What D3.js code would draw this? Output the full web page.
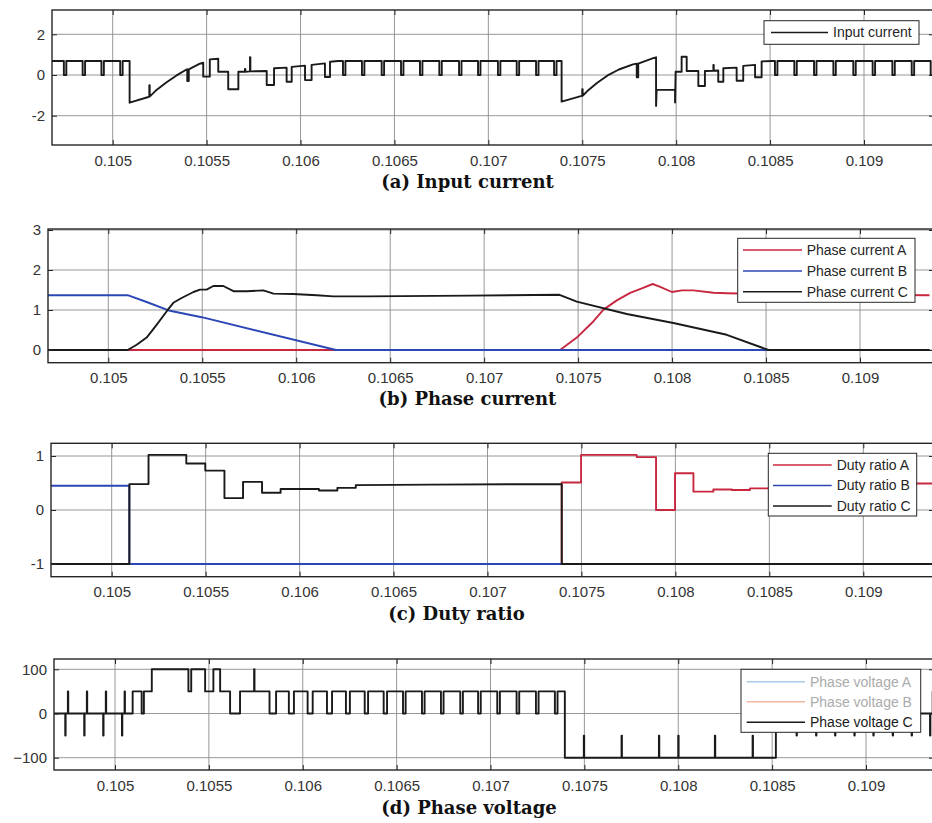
<!DOCTYPE html>
<html>
<head>
<meta charset="utf-8">
<script src="https://cdn.jsdelivr.net/npm/d3@7"></script>
<style>
  body { margin: 0; background: #fff; }
  svg { display: block; }
</style>
</head>
<body>
<div id="app"></div>
<script>
// ---- data ----
const timeTicks = [0.105, 0.1055, 0.106, 0.1065, 0.107, 0.1075, 0.108, 0.1085, 0.109];
const timeTickLabels = ["0.105", "0.1055", "0.106", "0.1065", "0.107", "0.1075", "0.108", "0.1085", "0.109"];

// (a) input current: trace with steps, plus notches [t, base, level, width]
const inputCurrentTicks = [-2, 0, 2];
const inputCurrentTickLabels = ["-2", "0", "2"];
const inputCurrentTrace = [
  [0.104675, 0.69], [0.105090, 0.69], [0.105090, -1.36], [0.105190, -1.08],
  [0.105235, -0.72], [0.105287, -0.36], [0.105340, -0.02], [0.105393, 0.27],
  [0.105464, 0.56], [0.105482, 0.60], [0.105482, -0.08], [0.105517, -0.08],
  [0.105517, 0.77], [0.105562, 0.80], [0.105562, 0.16], [0.105615, 0.16],
  [0.105615, -0.70], [0.105669, -0.70], [0.105669, 0.16], [0.105820, 0.20],
  [0.105820, -0.49], [0.105859, -0.49], [0.105859, 0.33], [0.105926, 0.36],
  [0.105926, -0.33], [0.105953, -0.33], [0.105953, 0.40], [0.106024, 0.46],
  [0.106024, -0.25], [0.106059, -0.25], [0.106059, 0.50], [0.106130, 0.57],
  [0.106130, -0.10], [0.106157, -0.10], [0.106157, 0.65], [0.106200, 0.69],
  [0.107390, 0.69], [0.107390, -1.31], [0.107497, -1.03], [0.107535, -0.72],
  [0.107580, -0.38], [0.107635, -0.02], [0.107695, 0.27], [0.107770, 0.52],
  [0.107878, 0.83], [0.107893, 0.87],
  [0.107893, -1.52], [0.107896, -0.73], [0.107994, -0.73], [0.107994, -1.35],
  [0.107997, 0.16], [0.108029, 0.16], [0.108029, 0.90], [0.108056, 0.90],
  [0.108056, 0.20], [0.108118, 0.20], [0.108118, -0.54], [0.108153, -0.54],
  [0.108153, 0.20], [0.108224, 0.22], [0.108224, -0.33], [0.108251, -0.33],
  [0.108251, 0.33], [0.108322, 0.36], [0.108322, -0.28], [0.108357, -0.28],
  [0.108357, 0.45], [0.108420, 0.50], [0.108420, -0.11], [0.108455, -0.11],
  [0.108455, 0.67], [0.108510, 0.69], [0.109370, 0.69]
];
const inputCurrentNotches = [
  [0.104740, 0.69, 0, 0.000013], [0.104840, 0.69, 0, 0.000013], [0.104940, 0.69, 0, 0.000013],
  [0.105040, 0.69, 0, 0.000013], [0.105195, -1.06, -0.5, 0.000002], [0.105397, 0.28, -0.3, 0.000008],
  [0.105704, 0.16, 0.3, 0.000002], [0.105731, 0.18, 0.87, 0.000002],
  [0.106226, 0.69, 0, 0.000013], [0.106327, 0.69, 0, 0.000013], [0.106432, 0.69, 0, 0.000013],
  [0.106535, 0.69, 0, 0.000013], [0.106636, 0.69, 0, 0.000013], [0.106739, 0.69, 0, 0.000013],
  [0.106844, 0.69, 0, 0.000013], [0.106945, 0.69, 0, 0.000013], [0.107051, 0.69, 0, 0.000013],
  [0.107151, 0.69, 0, 0.000013], [0.107254, 0.69, 0, 0.000013], [0.107350, 0.69, 0, 0.000013],
  [0.107500, -1.02, -0.7, 0.000002], [0.107790, 0.56, -0.11, 0.000008], [0.108198, 0.21, 0.49, 0.000002],
  [0.108526, 0.69, 0, 0.000013], [0.108629, 0.69, 0, 0.000013], [0.108734, 0.69, 0, 0.000013],
  [0.108837, 0.69, 0, 0.000013], [0.108943, 0.69, 0, 0.000013], [0.109046, 0.69, 0, 0.000013],
  [0.109151, 0.69, 0, 0.000013], [0.109254, 0.69, 0, 0.000013], [0.109355, 0.69, 0, 0.000013]
];

// (b) phase currents
const phaseCurrentTicks = [0, 1, 2, 3];
const phaseCurrentTickLabels = ["0", "1", "2", "3"];
const phaseCurrentA = [
  [0.104675, 0], [0.107404, 0], [0.107493, 0.31], [0.107582, 0.72], [0.107635, 1.01],
  [0.107706, 1.24], [0.107777, 1.43], [0.107839, 1.54], [0.107897, 1.65], [0.107937, 1.58],
  [0.107999, 1.45], [0.108052, 1.49], [0.108114, 1.49], [0.108220, 1.43], [0.108291, 1.42],
  [0.108600, 1.39], [0.109370, 1.37]
];
const phaseCurrentB = [
  [0.104675, 1.37], [0.105103, 1.37], [0.105204, 1.20], [0.105328, 0.98],
  [0.105497, 0.82], [0.106212, 0], [0.109370, 0]
];
const phaseCurrentC = [
  [0.104675, 0], [0.105103, 0], [0.105151, 0.13], [0.105204, 0.31], [0.105257, 0.63],
  [0.105311, 0.97], [0.105346, 1.18], [0.105390, 1.30], [0.105453, 1.45], [0.105488, 1.51],
  [0.105523, 1.51], [0.105559, 1.60], [0.105612, 1.60], [0.105666, 1.47], [0.105737, 1.47],
  [0.105825, 1.49], [0.105879, 1.41], [0.105985, 1.40], [0.106109, 1.37], [0.106198, 1.34],
  [0.106376, 1.34], [0.106926, 1.36], [0.107401, 1.38], [0.107493, 1.21], [0.107759, 0.90],
  [0.108007, 0.675], [0.108291, 0.38], [0.108513, 0], [0.109370, 0]
];

// (c) duty ratios
const dutyTicks = [-1, 0, 1];
const dutyTickLabels = ["-1", "0", "1"];
const dutyA = [
  [0.104675, -1], [0.107395, -1], [0.107395, 0.51], [0.107498, 0.51], [0.107498, 1.02],
  [0.107794, 1.02], [0.107794, 0.98], [0.107897, 0.98], [0.107897, 0.0], [0.107998, 0.0],
  [0.107998, 0.68], [0.108096, 0.68], [0.108096, 0.34], [0.108202, 0.34], [0.108202, 0.38],
  [0.108300, 0.38], [0.108300, 0.37], [0.108397, 0.37], [0.108397, 0.40], [0.108500, 0.40],
  [0.108500, 0.42], [0.108700, 0.42], [0.108700, 0.45], [0.108900, 0.45], [0.108900, 0.47],
  [0.109100, 0.47], [0.109100, 0.49], [0.109370, 0.49]
];
const dutyB = [[0.104675, 0.45], [0.105094, 0.45], [0.105094, -1], [0.109370, -1]];
const dutyC = [
  [0.104675, -1], [0.105094, -1], [0.105094, 0.48], [0.105196, 0.48], [0.105196, 1.02],
  [0.105397, 1.02], [0.105397, 0.86], [0.105498, 0.86], [0.105498, 0.73], [0.105600, 0.73],
  [0.105600, 0.22], [0.105699, 0.22], [0.105699, 0.52], [0.105800, 0.52], [0.105800, 0.32],
  [0.105899, 0.32], [0.105899, 0.39], [0.106103, 0.39], [0.106103, 0.36], [0.106201, 0.36],
  [0.106201, 0.41], [0.106299, 0.41], [0.106299, 0.46], [0.106700, 0.47], [0.107395, 0.48],
  [0.107395, -1], [0.109370, -1]
];

// (d) phase voltage C: trace plus notches/spikes [t, base, level, width]
const voltageTicks = [-100, 0, 100];
const voltageTickLabels = ["\u2212100", "0", "100"];
const phaseVoltageCTrace = [
  [0.104675, 0], [0.105094, 0], [0.105094, 50], [0.105196, 50], [0.105196, 100],
  [0.105480, 100], [0.105480, 50], [0.105524, 50], [0.105524, 100], [0.105560, 100],
  [0.105560, 50], [0.105613, 50], [0.105613, 0], [0.105666, 0], [0.105666, 50],
  [0.105823, 50], [0.105823, 0], [0.105858, 0], [0.105858, 50], [0.107396, 50],
  [0.107396, -100], [0.108520, -100], [0.108520, 0], [0.109370, 0]
];
const phaseVoltageCNotches = [
  [0.104735, 0, -50, 0.000002], [0.104749, 0, 50, 0.000002],
  [0.104836, 0, -50, 0.000002], [0.104850, 0, 50, 0.000002],
  [0.104937, 0, -50, 0.000002], [0.104951, 0, 50, 0.000002],
  [0.105037, 0, -50, 0.000002], [0.105051, 0, 50, 0.000002],
  [0.105142, 50, 0, 0.000012], [0.105391, 100, 50, 0.000015], [0.105741, 50, 100, 0.000002],
  [0.105926, 50, 0, 0.000027], [0.106026, 50, 0, 0.000027], [0.106129, 50, 0, 0.000027],
  [0.106230, 50, 0, 0.000021], [0.106330, 50, 0, 0.000018], [0.106431, 50, 0, 0.000018],
  [0.106534, 50, 0, 0.000014], [0.106635, 50, 0, 0.000014], [0.106736, 50, 0, 0.000014],
  [0.106839, 50, 0, 0.000014], [0.106934, 50, 0, 0.000014], [0.107036, 50, 0, 0.000014],
  [0.107139, 50, 0, 0.000014], [0.107242, 50, 0, 0.000014], [0.107343, 50, 0, 0.000014],
  [0.107497, -100, -50, 0.000002], [0.107698, -100, -50, 0.000002], [0.107897, -100, -50, 0.000002],
  [0.108000, -100, -50, 0.000002], [0.108195, -100, -50, 0.000002], [0.108396, -100, -50, 0.000002],
  [0.108630, 0, -50, 0.000002], [0.108644, 0, 50, 0.000002],
  [0.108734, 0, -50, 0.000002], [0.108748, 0, 50, 0.000002],
  [0.108835, 0, -50, 0.000002], [0.108849, 0, 50, 0.000002],
  [0.108938, 0, -50, 0.000002], [0.108952, 0, 50, 0.000002],
  [0.109039, 0, -50, 0.000002], [0.109053, 0, 50, 0.000002],
  [0.109142, 0, -50, 0.000002], [0.109156, 0, 50, 0.000002],
  [0.109243, 0, -50, 0.000002], [0.109257, 0, 50, 0.000002],
  [0.109341, 0, -50, 0.000002], [0.109355, 0, 50, 0.000002]
];

// ---- drawing ----
const RED = "#c8283f";
const BLUE = "#2b47b5";
const BLACK = "#1a1a1a";
const AXIS_FONT = "'Liberation Sans', Arial, Helvetica, sans-serif";

function withNotches(trace, notches) {
  const groups = trace.map(p => [p]);
  notches.forEach(([t, base, level, w]) => {
    groups.push([[t, base], [t, level], [t + w, level], [t + w, base]]);
  });
  groups.sort((a, b) => a[0][0] - b[0][0]);
  return groups.flat();
}

const svg = d3.select("#app")
  .append("svg")
  .attr("width", 932)
  .attr("height", 823);

const panels = [
  {
    left: 52, right: 934, top: 10, bottom: 145,
    p105: 112.7, p109: 864, yRef: [-2, 2], yPix: [115.7, 34.3],
    yTicks: inputCurrentTicks, yLabels: inputCurrentTickLabels,
    series: [{ data: withNotches(inputCurrentTrace, inputCurrentNotches), color: BLACK }],
    legend: { x0: 764, x1: 919, y0: 20.7, y1: 44.3, lx0: 771, lx1: 828, tx: 833, rows: [32.5],
      items: [{ label: "Input current", color: BLACK, text: "#262626" }] },
    title: { text: "(a) Input current", x: 467.5, y: 187.5 }
  },
  {
    left: 48, right: 934, top: 229, bottom: 362.7,
    p105: 108.3, p109: 860, yRef: [0, 3], yPix: [350, 230],
    yTicks: phaseCurrentTicks, yLabels: phaseCurrentTickLabels,
    series: [
      { data: phaseCurrentA, color: RED },
      { data: phaseCurrentB, color: BLUE },
      { data: phaseCurrentC, color: BLACK }
    ],
    legend: { x0: 737.7, x1: 915, y0: 238.3, y1: 302.3, lx0: 743, lx1: 802, tx: 806.7, rows: [250, 271, 291.7],
      items: [
        { label: "Phase current A", color: RED, text: "#262626" },
        { label: "Phase current B", color: BLUE, text: "#262626" },
        { label: "Phase current C", color: BLACK, text: "#262626" }
      ] },
    title: { text: "(b) Phase current", x: 467.5, y: 405 }
  },
  {
    left: 51, right: 934, top: 443.3, bottom: 576.7,
    p105: 111.7, p109: 863.3, yRef: [-1, 1], yPix: [564, 456],
    yTicks: dutyTicks, yLabels: dutyTickLabels,
    series: [
      { data: dutyA, color: RED },
      { data: dutyB, color: BLUE },
      { data: dutyC, color: BLACK }
    ],
    legend: { x0: 768.3, x1: 916.7, y0: 453.3, y1: 516, lx0: 773, lx1: 831.7, tx: 836.7, rows: [465, 485.5, 506],
      items: [
        { label: "Duty ratio A", color: RED, text: "#262626" },
        { label: "Duty ratio B", color: BLUE, text: "#262626" },
        { label: "Duty ratio C", color: BLACK, text: "#262626" }
      ] },
    title: { text: "(c) Duty ratio", x: 456.5, y: 620 }
  },
  {
    left: 54, right: 934, top: 659, bottom: 770,
    p105: 115, p109: 866, yRef: [-100, 100], yPix: [757.7, 669.3],
    yTicks: voltageTicks, yLabels: voltageTickLabels,
    series: [{ data: withNotches(phaseVoltageCTrace, phaseVoltageCNotches), color: BLACK }],
    legend: { x0: 741, x1: 920.7, y0: 669.3, y1: 732.3, lx0: 746.7, lx1: 805, tx: 810, rows: [681.7, 701.7, 722.3],
      items: [
        { label: "Phase voltage A", color: "#a9c9e8", text: "#ababab" },
        { label: "Phase voltage B", color: "#f3b8a4", text: "#ababab" },
        { label: "Phase voltage C", color: BLACK, text: "#1a1a1a" }
      ] },
    title: { text: "(d) Phase voltage", x: 469, y: 813.5 }
  }
];

panels.forEach((p, i) => {
  const x = d3.scaleLinear().domain([0.105, 0.109]).range([p.p105, p.p109]);
  const y = d3.scaleLinear().domain(p.yRef).range(p.yPix);
  const g = svg.append("g");

  const clipId = "clip" + i;
  svg.append("clipPath").attr("id", clipId)
    .append("rect")
    .attr("x", p.left).attr("y", p.top)
    .attr("width", p.right - p.left).attr("height", p.bottom - p.top);

  // grid
  g.append("g").selectAll("line").data(timeTicks).join("line")
    .attr("x1", d => x(d)).attr("x2", d => x(d))
    .attr("y1", p.top).attr("y2", p.bottom)
    .attr("stroke", "#8c8c8c").attr("stroke-width", 0.9);
  g.append("g").selectAll("line").data(p.yTicks).join("line")
    .attr("x1", p.left).attr("x2", p.right)
    .attr("y1", d => y(d)).attr("y2", d => y(d))
    .attr("stroke", "#8c8c8c").attr("stroke-width", 0.9);

  // series
  const line = d3.line().x(d => x(d[0])).y(d => y(d[1]));
  const sg = g.append("g").attr("clip-path", `url(#${clipId})`);
  p.series.forEach(s => {
    sg.append("path")
      .attr("d", line(s.data))
      .attr("fill", "none")
      .attr("stroke", s.color)
      .attr("stroke-width", 1.9)
      .attr("stroke-linejoin", "round");
  });

  // axes (MATLAB style, ticks pointing inside)
  const xAxis = g.append("g")
    .attr("transform", `translate(0,${p.bottom})`)
    .call(d3.axisBottom(x).tickValues(timeTicks)
      .tickFormat((d, k) => timeTickLabels[k]).tickSize(-5).tickPadding(10));
  const yAxis = g.append("g")
    .attr("transform", `translate(${p.left},0)`)
    .call(d3.axisLeft(y).tickValues(p.yTicks)
      .tickFormat((d, k) => p.yLabels[k]).tickSize(-5).tickPadding(7));
  g.append("g")
    .attr("transform", `translate(0,${p.top})`)
    .call(d3.axisTop(x).tickValues(timeTicks).tickFormat("").tickSize(-5));
  g.append("g")
    .attr("transform", `translate(${p.right},0)`)
    .call(d3.axisRight(y).tickValues(p.yTicks).tickFormat("").tickSize(-5));

  g.selectAll(".domain").remove();
  g.selectAll(".tick line").attr("stroke", "#262626").attr("stroke-width", 1);
  [xAxis, yAxis].forEach(a => a.selectAll("text")
    .attr("font-family", AXIS_FONT)
    .attr("font-size", 15)
    .attr("fill", "#333"));

  g.append("rect")
    .attr("x", p.left).attr("y", p.top)
    .attr("width", p.right - p.left).attr("height", p.bottom - p.top)
    .attr("fill", "none").attr("stroke", "#262626").attr("stroke-width", 1.4);

  // legend
  const L = p.legend;
  const lg = g.append("g");
  lg.append("rect")
    .attr("x", L.x0).attr("y", L.y0)
    .attr("width", L.x1 - L.x0).attr("height", L.y1 - L.y0)
    .attr("fill", "#fff").attr("stroke", "#262626").attr("stroke-width", 1);
  L.items.forEach((item, k) => {
    lg.append("line")
      .attr("x1", L.lx0).attr("x2", L.lx1)
      .attr("y1", L.rows[k]).attr("y2", L.rows[k])
      .attr("stroke", item.color).attr("stroke-width", 1.6);
    lg.append("text")
      .attr("x", L.tx).attr("y", L.rows[k])
      .attr("dy", "0.35em")
      .attr("font-family", AXIS_FONT)
      .attr("font-size", 14)
      .attr("fill", item.text)
      .text(item.label);
  });

  // caption
  svg.append("text")
    .attr("x", p.title.x).attr("y", p.title.y)
    .attr("text-anchor", "middle")
    .attr("font-family", "'DejaVu Serif', serif")
    .attr("font-weight", "bold")
    .attr("font-size", 18)
    .attr("fill", "#111")
    .text(p.title.text);
});
</script>
</body>
</html>
